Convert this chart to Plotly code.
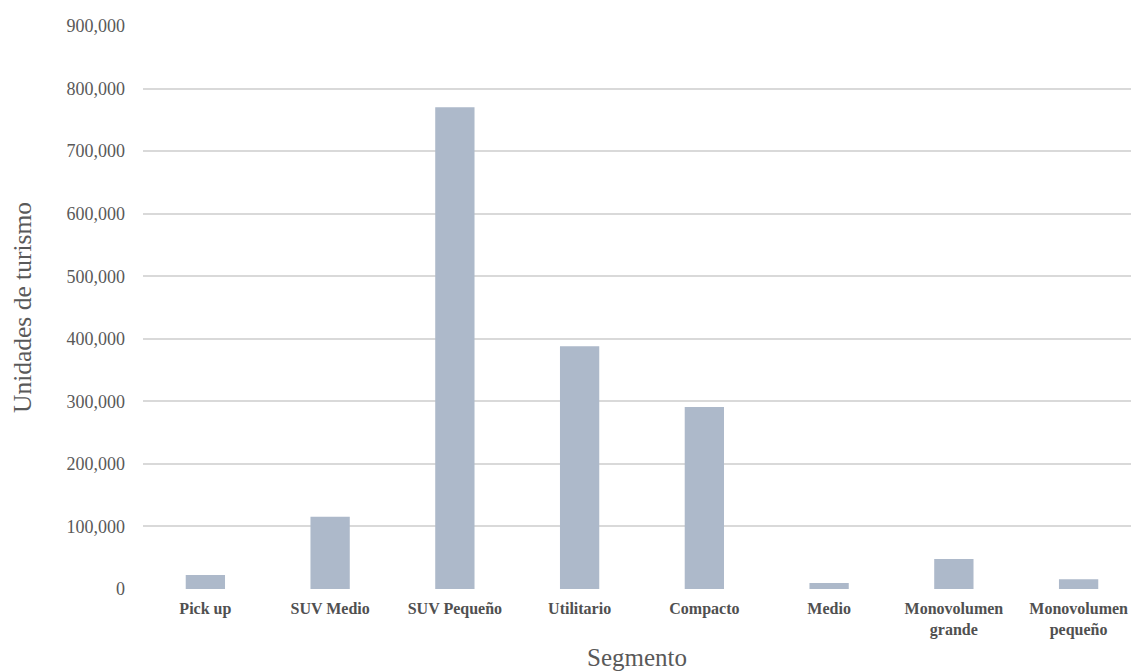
import plotly.graph_objects as go

categories = ["Pick up", "SUV Medio", "SUV Pequeño", "Utilitario", "Compacto",
              "Medio", "Monovolumen<br>grande", "Monovolumen<br>pequeño"]
values = [22500, 115500, 770000, 388000, 291000, 9600, 48100, 15500]
y_ticks = [0, 100000, 200000, 300000, 400000, 500000, 600000, 700000, 800000, 900000]

SERIF = "Liberation Serif, Times New Roman, serif"

fig = go.Figure(go.Bar(
    x=list(range(len(categories))),
    y=values,
    width=0.315,
    marker=dict(color="#ADB9CA", line=dict(width=0)),
))

fig.update_layout(
    width=1131, height=671,
    margin=dict(l=143, r=0, t=26, b=82, autoexpand=False),
    paper_bgcolor="white", plot_bgcolor="white",
    font=dict(family=SERIF, color="#595959"),
    showlegend=False,
    xaxis=dict(
        tickmode="array",
        tickvals=list(range(len(categories))),
        ticktext=[f"<b>{c}</b>" for c in categories],
        tickfont=dict(family=SERIF, size=16, color="#505050"),
        range=[-0.5, 7.42],
        automargin=False,
        showgrid=False, zeroline=False, showline=False, ticks="",
        ticklabelstandoff=8,
        title=dict(text="Segmento", font=dict(family=SERIF, size=25, color="#595959"), standoff=17),
    ),
    yaxis=dict(
        range=[0, 900000],
        tickmode="array",
        tickvals=y_ticks,
        ticktext=[f"{v:,}" for v in y_ticks],
        tickfont=dict(family=SERIF, size=18, color="#595959"),
        automargin=False,
        showgrid=True, gridcolor="#D9D9D9", gridwidth=1.5,
        zeroline=False, showline=False, ticks="",
        ticklabelstandoff=17,
        title=dict(text="Unidades de turismo", font=dict(family=SERIF, size=25.5, color="#595959"), standoff=27),
    ),
)

fig.write_html("out.html")
